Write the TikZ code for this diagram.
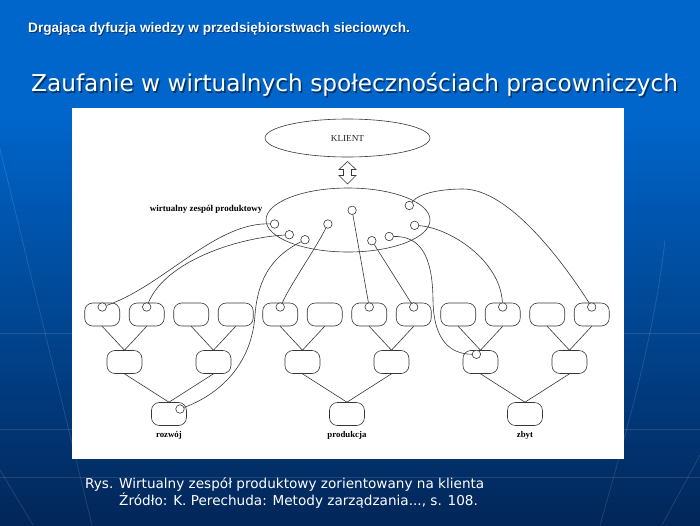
\documentclass[tikz,border=0pt]{standalone}
\usepackage{fontspec}
\setmainfont{Liberation Serif}
\newfontfamily\dvsans{DejaVu Sans}
\newfontfamily\lsans{Liberation Sans}
\usetikzlibrary{shapes.geometric}
\definecolor{bgtop}{RGB}{0,102,204}
\definecolor{bgmid}{RGB}{0,70,152}
\definecolor{bgbot}{RGB}{2,38,88}
\definecolor{linec}{RGB}{55,55,55}
\begin{document}
\begin{tikzpicture}[x=1pt,y=-1pt,
  box/.style={draw=linec, line width=0.6pt, rounded corners=8pt, minimum width=35pt, minimum height=23pt, inner sep=0pt},
  port/.style={draw=linec, line width=0.6pt, circle, minimum size=8.5pt, inner sep=0pt, fill=white},
  link/.style={draw=linec, line width=0.6pt},
  lbl/.style={font=\fontsize{8.8}{10}\selectfont\bfseries, text=black, anchor=base, inner sep=0pt},
  txt/.style={anchor=base west, inner sep=0pt},
  ray/.style={draw=white, opacity=0.12, line width=0.8pt}]
\useasboundingbox (0,0) rectangle (700,525);
\fill[bgtop] (0,0) rectangle (700,111);
\shade[top color=bgtop, middle color=bgmid, bottom color=bgbot] (0,110) rectangle (700,525);
% faint decorative rays
\draw[ray] (0,333) -- (700,333);
\draw[ray] (0,429) -- (700,429);
\draw[ray] (0,477) -- (700,477);
\draw[ray] (-10,108) -- (92,525);
\draw[ray] (0,470) -- (33,525);
\draw[ray] (665,240) .. controls (655,330) and (630,420) .. (600,525);
\draw[ray] (700,455) -- (662,525);
% white panel
\fill[white] (72,108) rectangle (624,459);
% header and title
\node[txt, text=black, opacity=0.45, font=\lsans\bfseries\fontsize{13.6}{15}\selectfont] at (29,33.7) {Drgająca dyfuzja wiedzy w przedsiębiorstwach sieciowych.};
\node[txt, text=white, font=\lsans\bfseries\fontsize{13.6}{15}\selectfont] (hdr) at (28,32.7) {Drgająca dyfuzja wiedzy w przedsiębiorstwach sieciowych.};
\node[txt, text=black, opacity=0.5, font=\dvsans\fontsize{23.2}{26}\selectfont] at (32.5,93.2) {Zaufanie w wirtualnych społecznościach pracowniczych};
\node[txt, text=white, font=\dvsans\fontsize{23.2}{26}\selectfont] (title) at (31,91.7) {Zaufanie w wirtualnych społecznościach pracowniczych};
% caption
\node[txt, text=white, font=\dvsans\fontsize{13.6}{16}\selectfont] (cap1) at (85,488.3) {Rys. Wirtualny zespół produktowy zorientowany na klienta};
\node[txt, text=white, font=\dvsans\fontsize{13.6}{16}\selectfont] (cap2) at (119,505.7) {Źródło: K. Perechuda: Metody zarządzania..., s. 108.};
% client and team
\node[ellipse, draw=linec, line width=0.6pt, minimum width=165pt, minimum height=38pt, inner sep=0pt, font=\fontsize{9.2}{11}\selectfont, text=black!85] (klient) at (347.5,138) {KLIENT};
\draw[linec, line width=0.6pt, fill=white] (347.5,161.5) -- (356,169.5) -- (351.5,169.5) -- (351.5,175.5) -- (356,175.5) -- (347.5,184) -- (339,175.5) -- (343.5,175.5) -- (343.5,169.5) -- (339,169.5) -- cycle;
\node[ellipse, draw=linec, line width=0.6pt, minimum width=164pt, minimum height=64pt, inner sep=0pt] (team) at (348,220) {};
\node[anchor=base east, inner sep=0pt, font=\fontsize{9}{10}\selectfont\bfseries] (teamlbl) at (262.5,211.5) {wirtualny zespół produktowy};
% boxes
\foreach \i in {1,...,12} \node[box] (t\i) at ({102.2+44.5*(\i-1)},314.5) {};
\foreach \i in {1,...,6} \node[box] (m\i) at ({124.45+89*(\i-1)},362) {};
\foreach \i in {1,2,3} \node[box] (b\i) at ({168.95+178*(\i-1)},414) {};
\foreach \m/\a/\b in {1/1/2,2/3/4,3/5/6,4/7/8,5/9/10,6/11/12} {
  \draw[link] (t\a.south) -- (m\m.north);
  \draw[link] (t\b.south) -- (m\m.north);
}
\foreach \n/\a/\b in {1/1/2,2/3/4,3/5/6} {
  \draw[link] (m\a.south) -- (b\n.north);
  \draw[link] (m\b.south) -- (b\n.north);
}
\node[lbl] (l1) at (168.95,437.5) {rozwój};
\node[lbl] (l2) at (346.95,437.5) {produkcja};
\node[lbl] (l3) at (524.95,437.5) {zbyt};
% ports in team ellipse
\node[port] (c1) at (274.6,224) {};
\node[port] (c2) at (289.3,234.7) {};
\node[port] (c3) at (305,239.7) {};
\node[port] (c4) at (327.9,224) {};
\node[port] (c5) at (352.1,210.3) {};
\node[port] (c6) at (409.3,205.5) {};
\node[port] (c7) at (414.6,225.3) {};
\node[port] (c8) at (371.8,240.7) {};
\node[port] (c9) at (389.2,236.5) {};
% ports in boxes
\node[port] (p1) at (102.2,307) {};
\node[port] (p2) at (146.7,307) {};
\node[port] (p5) at (280.2,307) {};
\node[port] (p7) at (369.2,307) {};
\node[port] (p8) at (413.7,307) {};
\node[port] (p10) at (502.7,307) {};
\node[port] (p12) at (591.7,307) {};
\node[port] (pm5) at (476.4,354.3) {};
\node[port] (pb1) at (180,409) {};
% connectors
\draw[link] (c1) .. controls (215,222) and (165,285) .. (p1);
\draw[link] (c2) .. controls (235,238) and (165,262) .. (p2);
\draw[link] (c3) .. controls (275,255) and (258,275) .. (255,315) .. controls (252,360) and (225,392) .. (pb1);
\draw[link] (c4) .. controls (316,248) and (292,282) .. (p5);
\draw[link] (c5) -- (p7);
\draw[link] (c8) -- (p8);
\draw[link] (c9) .. controls (420,236) and (432.5,255) .. (433,300) .. controls (433.5,340) and (450,354) .. (pm5);
\draw[link] (c7) .. controls (450,228) and (500,260) .. (p10);
\draw[link] (c6) .. controls (420,192) and (445,189) .. (463,189) .. controls (510,189) and (565,265) .. (p12);
\end{tikzpicture}
\end{document}
